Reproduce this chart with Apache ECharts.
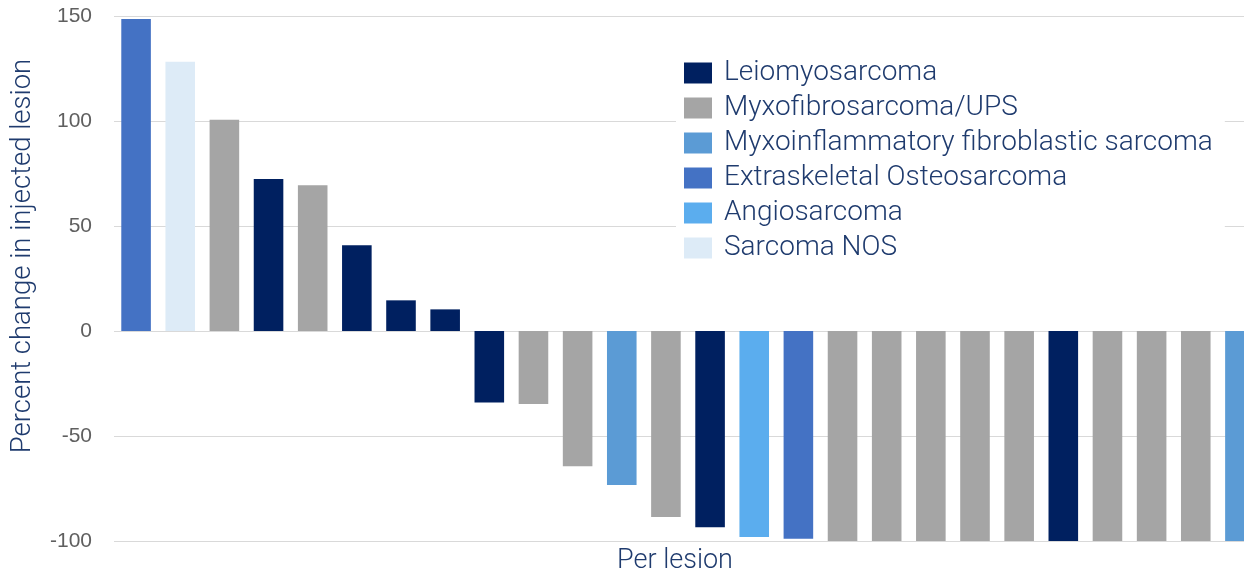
<!DOCTYPE html>
<html>
<head>
<meta charset="utf-8">
<script src="https://cdn.jsdelivr.net/npm/echarts@6/dist/echarts.min.js"></script>
<style>
  html, body { margin: 0; padding: 0; background: #fff; overflow: hidden; }
  /* plot runs past the right edge of the window, as in the cropped original */
  #chart { width: 1262px; height: 576px; }
</style>
</head>
<body>
<div id="chart"></div>
<script>
// tumour types, in legend order
var types = ['Leiomyosarcoma', 'Myxofibrosarcoma/UPS', 'Myxoinflammatory fibroblastic sarcoma',
  'Extraskeletal Osteosarcoma', 'Angiosarcoma', 'Sarcoma NOS'];
var typeColors = ['#002060', '#A5A5A5', '#5B9BD5', '#4472C4', '#5BADEE', '#DDEBF7'];

// one entry per lesion, sorted as in the waterfall
var lesions = ['1', '2', '3', '4', '5', '6', '7', '8', '9', '10', '11', '12', '13',
  '14', '15', '16', '17', '18', '19', '20', '21', '22', '23', '24', '25', '26'];
var change = [148.6, 128.2, 100.6, 72.4, 69.4, 40.8, 14.6, 10.3, -34, -34.8, -64.4, -73.3, -88.6,
  -93.5, -98.1, -98.9, -100, -100, -100, -100, -100, -100, -100, -100, -100, -100];
var lesionType = [3, 5, 1, 0, 1, 0, 0, 0, 0, 1, 1, 2, 1,
  0, 4, 3, 1, 1, 1, 1, 1, 0, 1, 1, 1, 2];

var yTicks = { min: -100, max: 150, interval: 50 };

var textColor = '#1F3B6E';
var font = 'Roboto';

var series = types.map(function (name, t) {
  return {
    name: name,
    type: 'bar',
    barGap: '-100%',
    barCategoryGap: '33%',
    itemStyle: { color: typeColors[t] },
    data: change.map(function (v, i) { return lesionType[i] === t ? v : '-'; })
  };
});

var chart = echarts.init(document.getElementById('chart'));
chart.setOption({
  animation: false,
  grid: { left: 114, right: 0, top: 16, bottom: 35, containLabel: false },
  xAxis: {
    type: 'category',
    data: lesions,
    axisLine: { show: false },
    axisTick: { show: false },
    axisLabel: { show: false }
  },
  yAxis: {
    type: 'value',
    min: yTicks.min,
    max: yTicks.max,
    interval: yTicks.interval,
    axisLine: { show: false },
    axisTick: { show: false },
    axisLabel: { color: '#5f5f5f', fontSize: 21, fontFamily: 'Liberation Sans', margin: 22 },
    splitLine: { lineStyle: { color: '#d9d9d9', width: 1 } }
  },
  legend: {
    orient: 'vertical',
    left: 676,
    top: 51,
    backgroundColor: '#fff',
    padding: [8, 12, 8, 8],
    itemWidth: 28,
    itemHeight: 21,
    itemGap: 7,
    icon: 'rect',
    textStyle: { color: textColor, fontSize: 28, fontFamily: font, fontWeight: 300,
      padding: [0, 0, 0, 7] },
    data: types
  },
  graphic: [
    {
      type: 'text', x: 23, y: 256, rotation: Math.PI / 2,
      style: { text: 'Percent change in injected lesion', fill: textColor, font: '300 27.5px Roboto',
        textAlign: 'center', textVerticalAlign: 'middle' }
    },
    {
      type: 'text', x: 675, y: 561,
      style: { text: 'Per lesion', fill: textColor, font: '300 27px Roboto',
        textAlign: 'center', textVerticalAlign: 'middle' }
    }
  ],
  series: series
});
</script>
</body>
</html>
